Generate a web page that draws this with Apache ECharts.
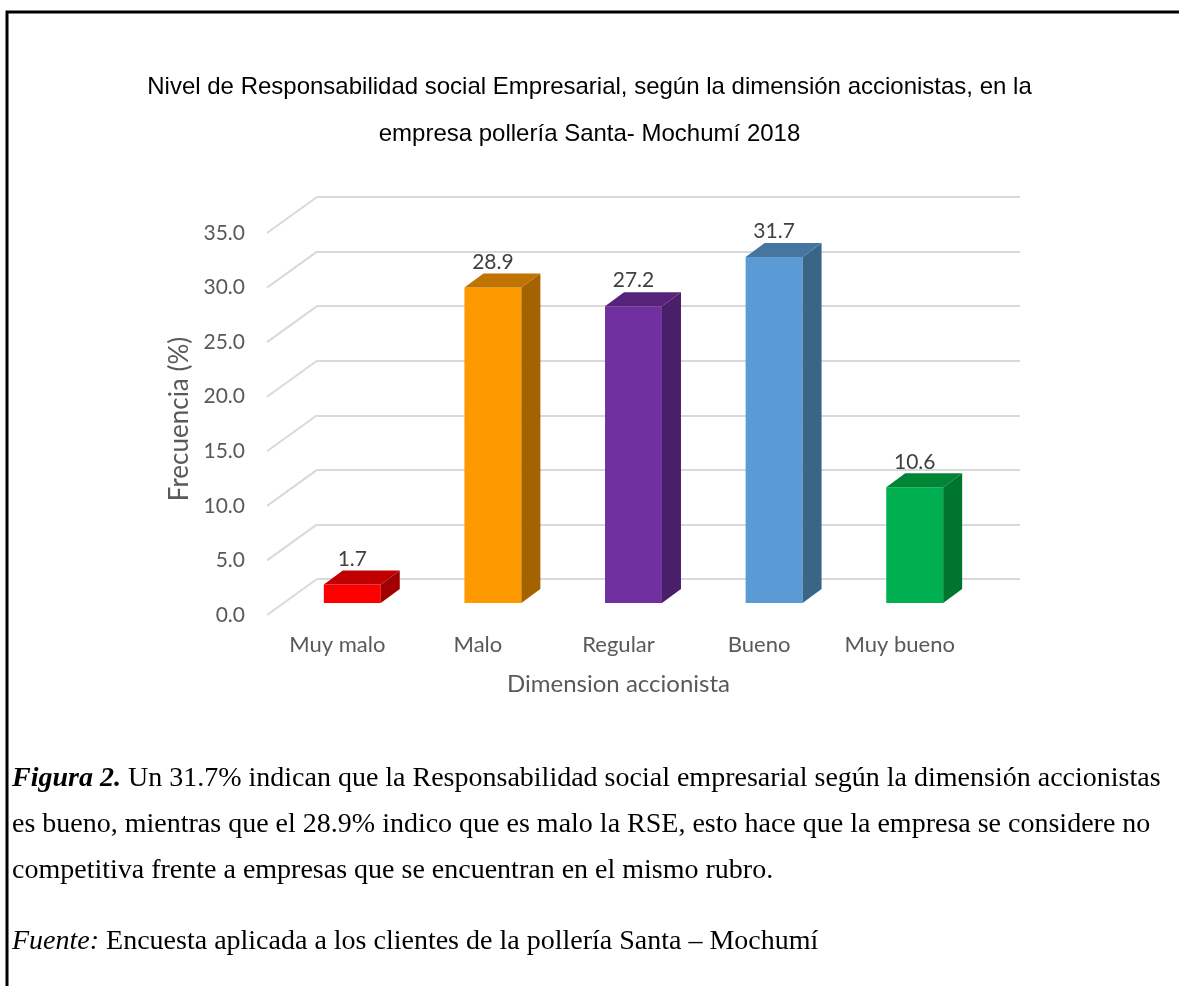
<!DOCTYPE html>
<html>
<head>
<meta charset="utf-8">
<script src="https://cdn.jsdelivr.net/npm/echarts@6/dist/echarts.min.js"></script>
<style>
  body { margin: 0; background: #fff; }
  #main { width: 1179px; height: 986px; }
</style>
</head>
<body>
<div id="main"></div>
<script>
var chart = echarts.init(document.getElementById("main"));

// datos del grafico
var categorias = ["Muy malo", "Malo", "Regular", "Bueno", "Muy bueno"];
var frecuencias = [1.7, 28.9, 27.2, 31.7, 10.6];
var ticksY = [0, 5, 10, 15, 20, 25, 30, 35];

// colores: frente, lado, tapa
var coloresFrente = ["#ff0000", "#ff9900", "#7030a0", "#5b9bd5", "#00b050"];
var coloresLado = ["#a00000", "#a56300", "#4a1e68", "#3b6587", "#00752f"];
var coloresTapa = ["#c00000", "#c07300", "#56237a", "#4675a0", "#008537"];

var textoGris = "#595959";
var gridGris = "#d9d9d9";

// desplazamiento del frente de la barra respecto a la pared del fondo
var frenteDx = -35, frenteDy = 24;
var ladoDx = 19, ladoDy = -14;

function barra3d(params, api) {
  var i = api.value(0);
  var v = api.value(1);
  var top = api.coord([i, v]);
  var base = api.coord([i, 0]);
  var w = api.size([1, 0])[0] * 0.405;
  var x0 = top[0] + frenteDx - w / 2;
  var x1 = x0 + w;
  var yt = top[1] + frenteDy;
  var yb = base[1] + frenteDy;
  return {
    type: "group",
    children: [
      {
        type: "rect",
        shape: { x: x0, y: yt, width: w, height: yb - yt },
        style: { fill: coloresFrente[i] }
      },
      {
        type: "polygon",
        shape: { points: [[x1, yt], [x1 + ladoDx, yt + ladoDy], [x1 + ladoDx, yb + ladoDy], [x1, yb]] },
        style: { fill: coloresLado[i] }
      },
      {
        type: "polygon",
        shape: { points: [[x0, yt], [x0 + ladoDx, yt + ladoDy], [x1 + ladoDx, yt + ladoDy], [x1, yt]] },
        style: { fill: coloresTapa[i] }
      },
      {
        type: "text",
        style: {
          text: v.toFixed(1),
          x: x0 + w / 2,
          y: yt + ladoDy - 1,
          align: "center",
          verticalAlign: "bottom",
          fill: "#404040",
          font: "21px Lato"
        }
      }
    ]
  };
}

// lineas diagonales del piso lateral
function diagonal(params, api) {
  var p = api.coord([0, api.value(1)]);
  var x = params.coordSys.x;
  return {
    type: "line",
    shape: { x1: x, y1: p[1], x2: x - 50, y2: p[1] + 36 },
    style: { stroke: gridGris, lineWidth: 2 }
  };
}

var option = {
  animation: false,
  title: {
    text: "Nivel de Responsabilidad social Empresarial, según la dimensión accionistas, en la\nempresa pollería Santa- Mochumí 2018",
    left: "center",
    top: 59,
    textStyle: {
      fontFamily: "Liberation Sans",
      fontSize: 24,
      fontWeight: "normal",
      color: "#000",
      lineHeight: 47
    }
  },
  grid: [
    { left: 317, width: 703, top: 197, height: 382 },
    { left: 267, width: 703, top: 233, height: 382 }
  ],
  xAxis: [
    {
      gridIndex: 0,
      type: "category",
      data: categorias,
      show: false
    },
    {
      gridIndex: 1,
      type: "category",
      data: categorias,
      axisLine: { show: false },
      axisTick: { show: false },
      axisLabel: { color: textoGris, fontSize: 22, fontFamily: "Lato", margin: 19, interval: 0, hideOverlap: false },
      name: "Dimension accionista",
      nameLocation: "middle",
      nameGap: 57,
      nameTextStyle: { color: textoGris, fontSize: 24, fontFamily: "Lato" }
    }
  ],
  yAxis: [
    {
      gridIndex: 0,
      type: "value",
      min: 0,
      max: 35,
      interval: 5,
      axisLine: { show: false },
      axisTick: { show: false },
      axisLabel: { show: false },
      splitLine: { lineStyle: { color: gridGris, width: 2 } }
    },
    {
      gridIndex: 1,
      type: "value",
      min: 0,
      max: 35,
      interval: 5,
      axisLine: { show: false },
      axisTick: { show: false },
      splitLine: { show: false },
      axisLabel: {
        color: textoGris,
        fontSize: 21,
        fontFamily: "Lato",
        margin: 22,
        formatter: function (v) { return v.toFixed(1); }
      },
      name: "Frecuencia (%)",
      nameLocation: "middle",
      nameRotate: 90,
      nameGap: 74,
      nameTextStyle: { color: textoGris, fontSize: 26, fontFamily: "Lato", padding: [0, 0, 0, 10] }
    }
  ],
  series: [
    {
      type: "custom",
      xAxisIndex: 0,
      yAxisIndex: 0,
      renderItem: diagonal,
      data: ticksY.map(function (t) { return [0, t]; }),
      z: 1,
      silent: true
    },
    {
      type: "custom",
      xAxisIndex: 0,
      yAxisIndex: 0,
      renderItem: barra3d,
      data: frecuencias.map(function (v, i) { return [i, v]; }),
      z: 5
    }
  ],
  graphic: [
    {
      type: "polyline",
      shape: { points: [[7, 986], [7, 12], [1179, 12]] },
      style: { stroke: "#000", lineWidth: 3, fill: null }
    },
    {
      type: "text",
      left: 12,
      top: 756,
      style: {
        text: "{b|Figura 2.} Un 31.7% indican que la Responsabilidad social empresarial según la dimensión accionistas\nes bueno, mientras que el 28.9% indico que es malo la RSE, esto hace que la empresa se considere no\ncompetitiva frente a empresas que se encuentran en el mismo rubro.",
        font: "28px 'Liberation Serif'",
        fill: "#000",
        lineHeight: 46,
        rich: {
          b: { fontWeight: "bold", fontStyle: "italic", fontSize: 28, fontFamily: "Liberation Serif", lineHeight: 46 }
        }
      }
    },
    {
      type: "text",
      left: 12,
      top: 928,
      style: {
        text: "{i|Fuente:} Encuesta aplicada a los clientes de la pollería Santa – Mochumí",
        font: "28px 'Liberation Serif'",
        fill: "#000",
        rich: {
          i: { fontStyle: "italic", fontSize: 28, fontFamily: "Liberation Serif" }
        }
      }
    }
  ]
};

chart.setOption(option);
</script>
</body>
</html>
